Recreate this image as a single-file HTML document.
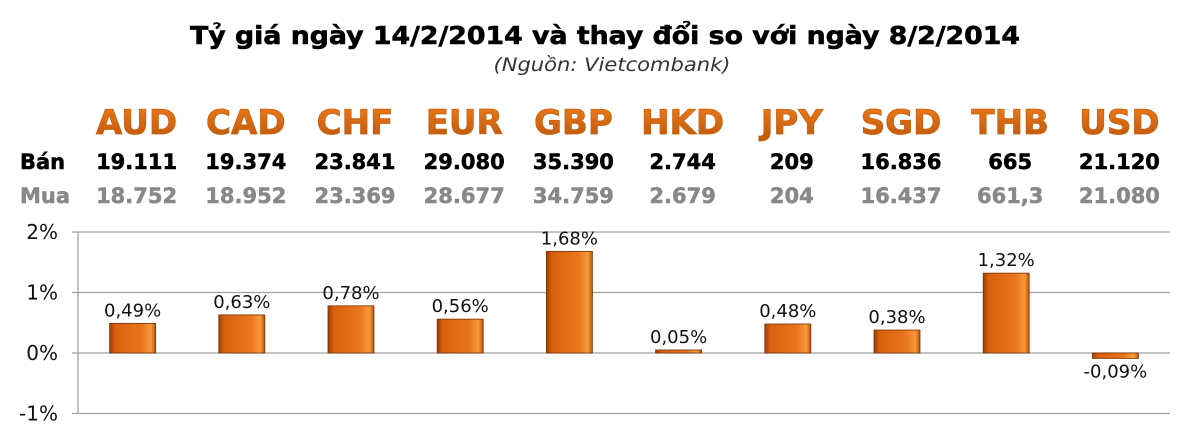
<!DOCTYPE html>
<html><head><meta charset="utf-8"><style>html,body{margin:0;padding:0;background:#fff}svg{display:block}</style></head>
<body>
<svg id="c" width="1200" height="447" viewBox="0 0 1200 447" xmlns="http://www.w3.org/2000/svg" font-family="'DejaVu Sans','Liberation Sans',sans-serif">
<defs>
<linearGradient id="bg" x1="0" y1="0" x2="1" y2="0">
<stop offset="0" stop-color="#9a3f05"/><stop offset="0.12" stop-color="#d9600e"/><stop offset="0.7" stop-color="#e8761c"/><stop offset="0.9" stop-color="#f59a3c"/><stop offset="1" stop-color="#b85208"/></linearGradient>
<linearGradient id="hg" x1="0" y1="0" x2="0" y2="1"><stop offset="0" stop-color="#f07d1a"/><stop offset="1" stop-color="#b8550c"/></linearGradient>
</defs>
<text x="605" y="44" text-anchor="middle" font-size="25" font-weight="bold" fill="#000" stroke="#000" stroke-width="0.6" textLength="830" lengthAdjust="spacingAndGlyphs">Tỷ giá ngày 14/2/2014 và thay đổi so với ngày 8/2/2014</text>
<text x="612" y="71" text-anchor="middle" font-size="19" font-style="italic" fill="#333" textLength="237" lengthAdjust="spacingAndGlyphs">(Nguồn: Vietcombank)</text>
<text x="20" y="169" font-size="21" font-weight="bold" fill="#000" stroke="#000" stroke-width="0.5">Bán</text>
<text x="20" y="203" font-size="21" font-weight="bold" fill="#888" stroke="#888" stroke-width="0.5">Mua</text>
<g id="grid"></g><g id="heads"></g><g id="bars"></g>
</svg>
<script>
const currencies=["AUD","CAD","CHF","EUR","GBP","HKD","JPY","SGD","THB","USD"];
const sellRates=["19.111","19.374","23.841","29.080","35.390","2.744","209","16.836","665","21.120"];
const buyRates=["18.752","18.952","23.369","28.677","34.759","2.679","204","16.437","661,3","21.080"];
const changes=[0.49,0.63,0.78,0.56,1.68,0.05,0.48,0.38,1.32,-0.09];
const changeLabels=["0,49%","0,63%","0,78%","0,56%","1,68%","0,05%","0,48%","0,38%","1,32%","-0,09%"];
const yTicks=[2,1,0,-1];
const yTickLabels=["2%","1%","0%","-1%"];
const NS="http://www.w3.org/2000/svg";
const x0=78,x1=1170,bw=(x1-x0)/currencies.length;
const y=v=>353-v*60.5;
const xc=i=>x0+bw*(i+0.5);
function mk(t,a,p,txt){const e=document.createElementNS(NS,t);for(const k in a)e.setAttribute(k,a[k]);if(txt!=null)e.textContent=txt;p.appendChild(e);return e;}
const grid=document.getElementById('grid'),heads=document.getElementById('heads'),bars=document.getElementById('bars');
yTicks.forEach((t,i)=>{
 const l=mk('line',{x1:x0-6,x2:x1,y1:y(t),y2:y(t),stroke:'#a0a0a0','stroke-width':1.3},grid);
 
 
 const tx=mk('text',{x:58,y:y(t)+7,'text-anchor':'end','font-size':20,fill:'#111'},grid,yTickLabels[i]);
 
 
});
const ax=mk('line',{x1:x0,x2:x0,y1:y(2),y2:y(-1),stroke:'#a0a0a0','stroke-width':1.3},grid);


currencies.forEach((c,i)=>{
 const cx=xc(i)+4;
 const h=mk('text',{x:cx,y:134,'text-anchor':'middle','font-size':34,'font-weight':'bold',fill:'url(#hg)',stroke:'#c8600f','stroke-width':0.8},heads,c);
 
 
 const s=mk('text',{x:cx,y:169,'text-anchor':'middle','font-size':21,'font-weight':'bold',fill:'#000',stroke:'#000','stroke-width':0.5},heads,sellRates[i]);
 
 
 const small=buyRates[i].length>5&&buyRates[i].indexOf(',')>=0;
 const b=mk('text',{x:cx,y:203,'text-anchor':'middle','font-size':small?17:21,'font-weight':'bold',fill:'#888',stroke:'#888','stroke-width':0.5},heads,buyRates[i]);
 
 
 const v=changes[i],top=Math.min(y(v),y(0)),hh=Math.max(Math.abs(y(v)-y(0)),3);
 const r=mk('rect',{x:xc(i)-23,y:top,width:46,height:hh,fill:'url(#bg)',stroke:'#7a3204','stroke-width':0.8},bars);
 
 
 const ly=v>=0?top-7:top+hh+19;
 const lb=mk('text',{x:xc(i),y:ly,'text-anchor':'middle','font-size':18,fill:'#111'},bars,changeLabels[i]);
 
 
});
</script>
</body></html>
